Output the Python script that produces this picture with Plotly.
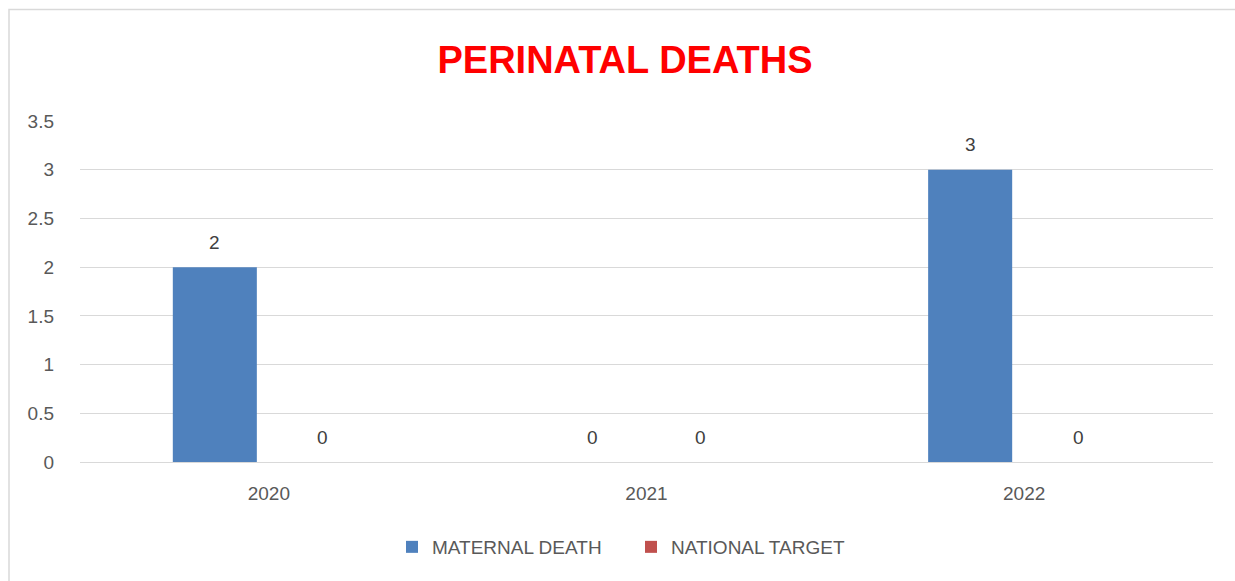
import plotly.graph_objects as go

years = ["2020", "2021", "2022"]
maternal_death = [2, 0, 3]
national_target = [0, 0, 0]
y_ticks = [0, 0.5, 1, 1.5, 2, 2.5, 3, 3.5]
y_tick_labels = ["0", "0.5", "1", "1.5", "2", "2.5", "3", "3.5"]

W, H = 1235, 581
L, R, T, B = 80, 22, 121, 119
pw, ph = W - L - R, H - T - B

BLUE = "#4f81bd"
RED = "#c0504d"
GREY_TXT = "#595959"
GRID = "#d9d9d9"
FONT = "Liberation Sans, Arial, sans-serif"

fig = go.Figure()
fig.add_trace(go.Bar(x=years, y=maternal_death, name="MATERNAL DEATH",
                     marker=dict(color=BLUE, line=dict(width=0)), hoverinfo="skip"))
fig.add_trace(go.Bar(x=years, y=national_target, name="NATIONAL TARGET",
                     marker=dict(color=RED, line=dict(width=0)), hoverinfo="skip"))

# value labels above each bar, offset to their slot within the group
slot = 108
for series, shift in ((maternal_death, -slot / 2), (national_target, slot / 2)):
    for i, v in enumerate(series):
        fig.add_annotation(x=i, y=v, xref="x", yref="y", text=str(v), showarrow=False,
                           xshift=shift, yshift=25, yanchor="middle",
                           font=dict(size=19, color="#404040", family=FONT))

# light outer frame of the chart area
fig.add_shape(type="rect", xref="paper", yref="paper",
              x0=(9 - L) / pw, x1=(W + 20 - L) / pw,
              y0=-(B + 20) / ph, y1=1 + (T - 9.5) / ph,
              line=dict(color=GRID, width=1.5), fillcolor="rgba(0,0,0,0)", layer="below")

fig.update_layout(
    width=W, height=H,
    margin=dict(l=L, r=R, t=T, b=B, pad=0),
    paper_bgcolor="white", plot_bgcolor="white",
    barmode="group", bargap=0.428, bargroupgap=0.222,
    title=dict(text="<b>PERINATAL DEATHS</b>", x=(625) / W, xanchor="center",
               y=1 - 60 / H, yanchor="middle",
               font=dict(size=38, color="#ff0000", family=FONT)),
    showlegend=True,
    legend=dict(orientation="h", x=(392 - L) / pw, xanchor="left",
                y=(462 - 547) / ph, yanchor="middle",
                font=dict(size=19, color=GREY_TXT, family=FONT),
                itemwidth=30, entrywidth=194, entrywidthmode="pixels",
                traceorder="normal"),
    font=dict(family=FONT, color=GREY_TXT),
)
fig.update_yaxes(range=[0, 3.5], tickvals=y_ticks, ticktext=y_tick_labels,
                 showgrid=True, gridcolor=GRID, gridwidth=1.3,
                 zeroline=True, zerolinecolor=GRID, zerolinewidth=1.3,
                 showline=False, ticks="", ticklabelstandoff=25,
                 tickfont=dict(size=19, color=GREY_TXT, family=FONT))
fig.update_xaxes(type="category", range=[-0.5, len(years) - 0.5],
                 showgrid=False, showline=False, ticks="",
                 ticklabelstandoff=18,
                 tickfont=dict(size=19, color=GREY_TXT, family=FONT))

fig.write_html("out.html")
